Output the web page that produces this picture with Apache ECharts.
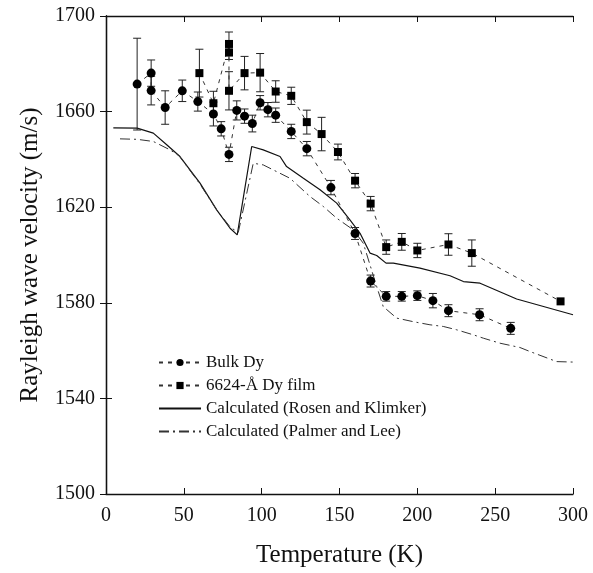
<!DOCTYPE html>
<html>
<head>
<meta charset="utf-8">
<script src="https://cdn.jsdelivr.net/npm/echarts@6/dist/echarts.min.js"></script>
<style>
html,body{margin:0;padding:0;background:#fff;}
#chart{width:593px;height:573px;}
</style>
</head>
<body>
<div id="chart"></div>
<script>
// ---- data ----
var xTicks = [0, 50, 100, 150, 200, 250, 300];
var yTicks = [1500, 1540, 1580, 1620, 1660, 1700];

var bulkT   = [20, 29, 29, 38, 49, 59, 69, 74, 79, 84, 89, 94, 99, 104, 109, 119, 129, 144.5, 160, 170, 180, 190, 200, 210, 220, 240, 260];
var bulkV   = [1671.5, 1676.1, 1668.8, 1661.7, 1668.7, 1664.2, 1659.0, 1652.8, 1642.1, 1660.5, 1658.1, 1655.0, 1663.7, 1660.8, 1658.5, 1651.7, 1644.5, 1628.2, 1609.0, 1589.1, 1582.7, 1582.7, 1583.0, 1580.9, 1576.7, 1575.0, 1569.3];
var bulkErr = [19.2, 5.5, 6, 7, 4.5, 4, 5, 3, 3, 4, 3, 3.5, 3, 3, 3, 3, 3, 3, 2.5, 2.5, 2, 2, 2, 3, 2.5, 2.5, 2.5];

var filmT   = [60, 69, 79, 79, 79, 89, 99, 109, 119, 129, 138.5, 149, 160, 170, 180, 190, 200, 220, 235, 292];
var filmV   = [1676.1, 1663.5, 1688.3, 1684.8, 1668.7, 1676.1, 1676.3, 1668.4, 1666.6, 1655.6, 1650.6, 1643.1, 1631.1, 1621.5, 1603.3, 1605.5, 1601.9, 1604.4, 1600.8, 1580.6];
var filmErr = [10, 5, 5, 3, 8, 7, 8, 4.5, 3.6, 5, 7, 3.3, 3, 3, 3, 3.5, 3, 4.5, 5.5, 0];

var rosenT = [4.7, 20, 30.4, 39, 47.5, 60.4, 71.1, 79.7, 84.3, 93.6, 101, 111.8, 116, 126.8, 137.5, 148.2, 156.7, 163.2, 169.6, 173.9, 179.9, 184.6, 201.7, 221, 229.6, 240.3, 263.8, 300];
var rosenV = [1653.2, 1653.1, 1651.0, 1646.1, 1641.2, 1630.1, 1618.9, 1611.2, 1608.4, 1645.4, 1644.0, 1641.2, 1637.0, 1632.1, 1627.3, 1621.7, 1614.7, 1609.1, 1600.8, 1599.8, 1596.6, 1596.6, 1594.5, 1591.3, 1588.9, 1588.2, 1581.6, 1575.0];

var palmerT = [9, 20, 30.4, 41.1, 47, 60, 71, 80, 85, 94.6, 101, 109.6, 118.2, 131, 139.6, 148.2, 158.9, 165.3, 173.9, 178.1, 186.7, 197.4, 208.1, 216.7, 225.3, 236, 242.4, 253.1, 265.9, 272.4, 289.5, 300];
var palmerV = [1648.6, 1648.4, 1647.5, 1644.0, 1641.5, 1630.0, 1619.0, 1611.5, 1609.5, 1638.4, 1637.7, 1634.9, 1632.1, 1624.5, 1620.3, 1615.4, 1610.5, 1604.9, 1586.8, 1578.4, 1573.6, 1572.1, 1570.8, 1570.1, 1568.7, 1566.6, 1565.2, 1563.1, 1561.3, 1559.6, 1555.4, 1555.2];

var names = ['Bulk Dy', '6624-\u00c5 Dy film', 'Calculated (Rosen and Klimker)', 'Calculated (Palmer and Lee)'];

// ---- helpers ----
function zip(a, b) { return a.map(function (v, i) { return [v, b[i]]; }); }
function errData(t, v, e) {
  var out = [];
  for (var i = 0; i < t.length; i++) { if (e[i] > 0) out.push([t[i], v[i] - e[i], v[i] + e[i]]); }
  return out;
}
function errRender(params, api) {
  var x = api.value(0), lo = api.value(1), hi = api.value(2);
  var p1 = api.coord([x, lo]), p2 = api.coord([x, hi]);
  var w = 4;
  var st = { stroke: '#222', lineWidth: 1 };
  return {
    type: 'group',
    children: [
      { type: 'line', shape: { x1: p1[0], y1: p1[1], x2: p2[0], y2: p2[1] }, style: st },
      { type: 'line', shape: { x1: p1[0] - w, y1: p1[1], x2: p1[0] + w, y2: p1[1] }, style: st },
      { type: 'line', shape: { x1: p2[0] - w, y1: p2[1], x2: p2[0] + w, y2: p2[1] }, style: st }
    ]
  };
}
function plain(v) { return String(v); }

var FONT = 'Liberation Serif';
var chart = echarts.init(document.getElementById('chart'), null, { renderer: 'canvas' });

var axisCommon = {
  axisLine: { show: true, lineStyle: { color: '#111', width: 1.3 } },
  axisTick: { show: true, inside: true, length: 6, lineStyle: { color: '#111', width: 1 } },
  splitLine: { show: false }
};

var option = {
  backgroundColor: '#fff',
  animation: false,
  grid: { left: 106, right: 20, top: 16, bottom: 77, containLabel: false },
  legend: {
    orient: 'vertical',
    left: 153,
    top: 349,
    itemWidth: 42,
    itemHeight: 9,
    itemGap: 6,
    data: [
      { name: names[0] },
      { name: names[1] },
      { name: names[2], itemStyle: { opacity: 0 } },
      { name: names[3], itemStyle: { opacity: 0 } }
    ],
    textStyle: { fontFamily: FONT, fontSize: 17, color: '#111' }
  },
  xAxis: [
    Object.assign({
      type: 'value', min: 0, max: 300, interval: 50, position: 'bottom',
      name: 'Temperature (K)', nameLocation: 'middle', nameGap: 49,
      nameTextStyle: { fontFamily: FONT, fontSize: 25, color: '#111' },
      axisLabel: { fontFamily: FONT, fontSize: 20, color: '#111', margin: 12,
        customValues: xTicks, formatter: plain }
    }, axisCommon, { axisTick: Object.assign({}, axisCommon.axisTick, { customValues: xTicks }) }),
    Object.assign({
      type: 'value', min: 0, max: 300, interval: 50, position: 'top',
      axisLabel: { show: false }
    }, axisCommon, { axisTick: Object.assign({}, axisCommon.axisTick, { customValues: xTicks }) })
  ],
  yAxis: [
    Object.assign({
      type: 'value', min: 1500, max: 1700, position: 'left',
      name: 'Rayleigh wave velocity (m/s)', nameLocation: 'middle', nameGap: 63,
      nameTextStyle: { fontFamily: FONT, fontSize: 25, color: '#111' },
      axisLabel: { fontFamily: FONT, fontSize: 20, color: '#111', margin: 11,
        customValues: yTicks, formatter: plain }
    }, axisCommon, { axisTick: Object.assign({}, axisCommon.axisTick, { customValues: yTicks }) }),
    Object.assign({
      type: 'value', min: 1500, max: 1700, position: 'right',
      axisLabel: { show: false }
    }, axisCommon, { axisTick: Object.assign({}, axisCommon.axisTick, { customValues: yTicks }) })
  ],
  series: [
    {
      name: names[2], type: 'line', data: zip(rosenT, rosenV),
      symbol: 'none', lineStyle: { color: '#111', width: 1.2, type: 'solid' },
      itemStyle: { color: '#111' }, z: 2
    },
    {
      name: names[3], type: 'line', data: zip(palmerT, palmerV),
      symbol: 'none', lineStyle: { color: '#333', width: 1, type: [10, 4, 2, 4] },
      itemStyle: { color: '#333' }, z: 2
    },
    {
      name: 'bulkErr', type: 'custom', renderItem: errRender,
      data: errData(bulkT, bulkV, bulkErr), z: 3, silent: true
    },
    {
      name: 'filmErr', type: 'custom', renderItem: errRender,
      data: errData(filmT, filmV, filmErr), z: 3, silent: true
    },
    {
      name: names[0], type: 'line', data: zip(bulkT, bulkV),
      symbol: 'circle', symbolSize: 9,
      lineStyle: { color: '#333', width: 1, type: [4, 5] },
      itemStyle: { color: '#000', borderWidth: 0 }, z: 4
    },
    {
      name: names[1], type: 'line', data: zip(filmT, filmV),
      symbol: 'rect', symbolSize: 8,
      lineStyle: { color: '#333', width: 1, type: [4, 5] },
      itemStyle: { color: '#000', borderWidth: 0 }, z: 4
    }
  ]
};
chart.setOption(option);
</script>
</body>
</html>
